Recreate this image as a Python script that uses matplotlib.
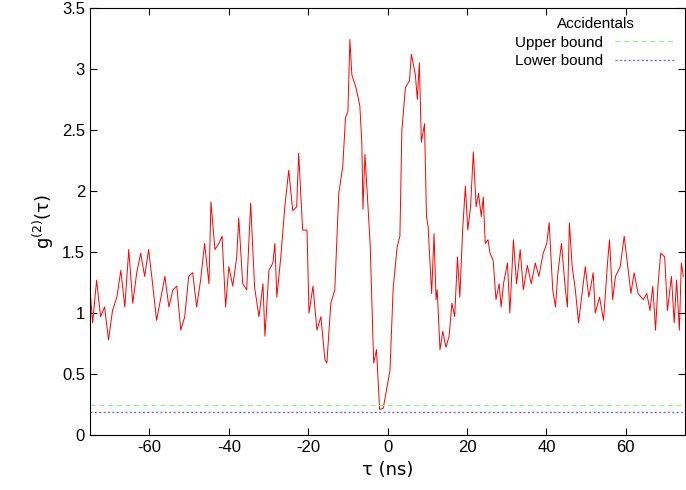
import matplotlib
matplotlib.use("Agg")
import matplotlib.pyplot as plt

tau = [-75.3,-74.3,-73.3,-72.3,-71.3,-70.3,-69.3,-68.2,-67.2,-66.2,-65.2,-64.2,-63.2,-62.2,-61.2,-60.2,-59.2,-58.2,-57.1,-56.1,
       -55.1,-54.1,-53.1,-52.1,-51.1,-50.1,-49.1,-48.1,-47.1,-46.1,-45.0,-44.5,-43.5,-42.5,-41.7,-40.8,-40.0,-39.0,-38.0,-37.5,
       -36.5,-35.5,-34.5,-33.5,-32.4,-31.4,-30.9,-29.9,-28.9,-28.4,-27.9,-26.9,-25.9,-24.9,-23.9,-22.9,-22.4,-21.4,-20.3,-19.8,
       -18.8,-17.8,-16.8,-15.8,-15.3,-14.3,-13.3,-12.3,-11.3,-10.6,-10.0,-9.5,-9.0,-8.0,-7.0,-6.5,-6.2,-5.7,-5.0,-4.4,
       -3.5,-2.8,-2.0,-1.1,0.6,1.4,2.4,3.1,3.6,4.5,5.5,6.0,7.0,7.5,8.0,8.5,9.3,9.8,10.2,11.1,
       11.7,12.2,12.5,13.2,13.9,14.7,15.5,16.2,16.9,17.6,18.2,18.9,19.6,20.2,20.9,21.6,22.3,22.9,23.6,24.1,
       24.6,25.3,25.8,26.6,27.3,28.1,28.6,29.2,30.2,30.8,31.7,32.5,33.4,34.2,35.2,36.2,37.2,38.1,39.2,40.1,
       40.7,41.6,42.3,42.9,43.8,44.8,45.3,45.8,46.5,47.3,48.1,49.0,49.8,50.7,51.8,52.3,53.4,54.4,55.4,55.9,
       56.7,57.4,58.6,59.6,60.6,61.3,62.1,63.1,64.4,65.3,66.1,66.8,67.5,68.1,68.8,69.8,70.5,71.5,72.2,72.8,
       73.5,74.0,74.5]
g2 = [1.33,0.92,1.27,0.97,1.05,0.78,1.02,1.13,1.35,1.05,1.52,1.08,1.33,1.49,1.30,1.52,1.24,0.94,1.13,1.30,
      1.05,1.19,1.22,0.86,0.97,1.30,1.33,1.05,1.27,1.57,1.24,1.91,1.52,1.57,1.63,1.05,1.38,1.22,1.46,1.78,
      1.24,1.19,1.90,1.21,0.97,1.24,0.81,1.35,1.41,1.57,1.13,1.46,1.87,2.17,1.84,1.87,2.31,1.68,1.68,1.00,
      1.22,0.86,0.97,0.62,0.59,1.08,1.19,1.98,2.20,2.60,2.65,3.24,2.95,2.85,2.70,2.40,1.85,2.30,1.90,1.57,
      0.59,0.70,0.21,0.22,0.53,1.20,1.54,1.63,2.50,2.85,2.90,3.12,2.95,2.75,3.05,2.40,2.55,1.79,1.71,1.16,
      1.65,1.11,1.19,0.70,0.85,0.72,0.81,1.08,0.97,1.46,1.13,1.68,2.04,1.68,1.87,2.32,1.87,1.98,1.79,1.95,
      1.57,1.60,1.49,1.43,1.11,1.24,1.05,1.24,1.41,1.00,1.60,1.24,1.52,1.19,1.39,1.24,1.41,1.30,1.49,1.57,
      1.74,1.19,1.05,1.33,1.57,1.19,1.05,1.74,1.38,1.19,0.92,1.16,1.38,1.13,1.33,1.00,1.13,0.94,1.41,1.60,
      1.11,1.30,1.38,1.63,1.35,1.16,1.33,1.16,1.11,1.16,1.02,1.22,0.86,1.22,1.49,1.46,1.02,1.30,0.92,1.27,
      0.86,1.41,1.30]
upper_bound = 0.25
lower_bound = 0.19

plt.rcParams['font.family'] = ['Liberation Sans', 'DejaVu Sans']
plt.rcParams['axes.unicode_minus'] = False
fig = plt.figure(figsize=(6.86, 4.9), dpi=100)
ax = fig.add_axes([0.131, 0.112, 0.868, 0.872])
ax.plot(tau, g2, color='red', lw=0.7)
ax.axhline(upper_bound, color='#99ee99', ls=(0, (4, 3)), lw=0.9, label='Upper bound')
ax.axhline(lower_bound, color='#5555ff', ls=(0, (1.5, 2)), lw=0.9, label='Lower bound')
ax.set_xlim(-75, 75)
ax.set_ylim(0, 3.5)
ax.set_xticks([-60, -40, -20, 0, 20, 40, 60])
ax.set_yticks([0, 0.5, 1, 1.5, 2, 2.5, 3, 3.5])
ax.set_yticklabels(['0', '0.5', '1', '1.5', '2', '2.5', '3', '3.5'])
ax.tick_params(direction='in', top=True, right=True, labelsize=12, length=5)
ax.set_xlabel('τ (ns)', fontsize=13, family=['DejaVu Sans'])
ax.set_ylabel('g$^{(2)}$(τ)', fontsize=13, family=['DejaVu Sans'])
leg = ax.legend(title='Accidentals', loc='upper right', frameon=False, fontsize=11,
                title_fontsize=11, markerfirst=False, handlelength=4, borderaxespad=0.2,
                labelspacing=0.3)
fig.savefig('out.png', dpi=100)
